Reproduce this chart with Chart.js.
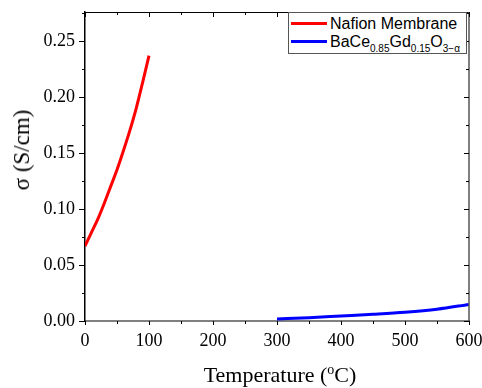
<!DOCTYPE html>
<html>
<head>
<meta charset="utf-8">
<script src="https://cdn.jsdelivr.net/npm/chart.js@4"></script>
<style>
  body { margin: 0; background: #fff; }
  #wrap { position: relative; width: 482px; height: 388px; }
  #legend {
    position: absolute; left: 288px; top: 12px; width: 179px; height: 42px;
    border: 1px solid #555; background: #fff; box-sizing: border-box;
    font-family: "Liberation Sans", Arial, sans-serif; font-size: 16px; color: #000;
  }
  .row { position: absolute; left: 0; height: 19px; line-height: 19px; white-space: nowrap; }
  .swatch { position: absolute; left: 2px; top: 8px; width: 36px; height: 3px; }
  .lbl { position: absolute; left: 41px; top: 0; }
  .lbl sub { font-size: 10px; vertical-align: -5px; line-height: 0; }
  #xtitle {
    position: absolute; left: 85px; width: 390px; top: 362px; text-align: center;
    font-family: "Liberation Serif", "Times New Roman", serif; font-size: 22px; color: #000;
  }
  #xtitle sup { font-size: 14px; vertical-align: 8px; line-height: 0; }
  #ytitle {
    position: absolute; left: 22px; top: 150px; transform: translate(-50%, -50%) rotate(-90deg);
    white-space: nowrap;
    font-family: "Liberation Serif", "Times New Roman", serif; font-size: 23px; color: #000;
  }
</style>
</head>
<body>
<div id="wrap">
  <canvas id="sigmaChart" width="482" height="388"></canvas>
  <div id="legend">
    <div class="row" style="top:1px"><div class="swatch" style="background:#ff0000"></div><span class="lbl">Nafion Membrane</span></div>
    <div class="row" style="top:19px"><div class="swatch" style="background:#0000ff"></div><span class="lbl">BaCe<sub>0.85</sub>Gd<sub>0.15</sub>O<sub>3−α</sub></span></div>
  </div>
  <div id="xtitle">Temperature (<sup>o</sup>C)</div>
  <div id="ytitle">σ (S/cm)</div>
</div>
<script>
// Nafion membrane conductivity
const nafionTemp = [0, 10, 20, 30, 40, 50, 60, 70, 80, 90, 100];
const nafionSigma = [0.067, 0.079, 0.091, 0.105, 0.120, 0.135, 0.152, 0.170, 0.190, 0.213, 0.237];

// BaCe0.85Gd0.15O3-a conductivity
const bcgTemp = [300, 350, 400, 450, 500, 550, 600];
const bcgSigma = [0.0018, 0.0030, 0.0045, 0.0060, 0.0078, 0.0105, 0.0148];

const xTicks = [0, 100, 200, 300, 400, 500, 600];
const yTicks = [0.00, 0.05, 0.10, 0.15, 0.20, 0.25];

const serif = "'Liberation Serif', 'Times New Roman', serif";

// ticks on all four sides, majors and minors
const frameTicks = {
    id: "frameTicks",
    afterDraw(chart) {
        const ctx = chart.ctx;
        const a = chart.chartArea;
        const xs = chart.scales.x, ys = chart.scales.y;
        ctx.save();
        // top frame line
        ctx.strokeStyle = "#000";
        ctx.lineWidth = 1;
        ctx.beginPath();
        ctx.moveTo(a.left, a.top + 0.5);
        ctx.lineTo(a.right, a.top + 0.5);
        ctx.stroke();
        // right frame line
        ctx.strokeStyle = "#555";
        ctx.lineWidth = 1.5;
        ctx.beginPath();
        ctx.moveTo(a.right, a.top);
        ctx.lineTo(a.right, a.bottom);
        ctx.stroke();

        ctx.lineWidth = 1;
        ctx.strokeStyle = "#000";
        const xMinor = [];
        for (let i = 0; i < xTicks.length - 1; i++) xMinor.push((xTicks[i] + xTicks[i + 1]) / 2);
        const yMinor = [];
        for (let i = 0; i < yTicks.length - 1; i++) yMinor.push((yTicks[i] + yTicks[i + 1]) / 2);
        yMinor.push(yTicks[yTicks.length - 1] + 0.025);

        ctx.beginPath();
        xTicks.forEach(v => {
            const px = Math.round(xs.getPixelForValue(v)) + 0.5;
            ctx.moveTo(px, a.bottom); ctx.lineTo(px, a.bottom + 4);
            ctx.moveTo(px, a.top); ctx.lineTo(px, a.top + 5);
        });
        xMinor.forEach(v => {
            const px = Math.round(xs.getPixelForValue(v)) + 0.5;
            ctx.moveTo(px, a.bottom); ctx.lineTo(px, a.bottom + 3);
            ctx.moveTo(px, a.top); ctx.lineTo(px, a.top + 3);
        });
        yTicks.forEach(v => {
            const py = Math.round(ys.getPixelForValue(v)) + 0.5;
            ctx.moveTo(a.left - 6, py); ctx.lineTo(a.left, py);
            ctx.moveTo(a.right, py); ctx.lineTo(a.right - 5, py);
        });
        yMinor.forEach(v => {
            if (v > ys.max) return;
            const py = Math.round(ys.getPixelForValue(v)) + 0.5;
            ctx.moveTo(a.left - 3, py); ctx.lineTo(a.left, py);
            ctx.moveTo(a.right, py); ctx.lineTo(a.right - 3, py);
        });
        ctx.stroke();
        ctx.restore();
    }
};

new Chart(document.getElementById("sigmaChart"), {
    type: "line",
    data: {
        datasets: [
            {
                label: "Nafion Membrane",
                data: nafionTemp.map((t, i) => ({ x: t, y: nafionSigma[i] })),
                borderColor: "#ff0000",
                borderWidth: 3,
                pointRadius: 0,
                cubicInterpolationMode: "monotone",
            },
            {
                label: "BaCe0.85Gd0.15O3-a",
                data: bcgTemp.map((t, i) => ({ x: t, y: bcgSigma[i] })),
                borderColor: "#0000ff",
                borderWidth: 3,
                pointRadius: 0,
                cubicInterpolationMode: "monotone",
            },
        ],
    },
    options: {
        responsive: false,
        animation: false,
        layout: { padding: { top: 12, right: 13, left: 0, bottom: 0 } },
        plugins: { legend: { display: false }, tooltip: { enabled: false } },
        scales: {
            x: {
                type: "linear",
                min: 0,
                max: 600,
                afterBuildTicks: s => { s.ticks = xTicks.map(v => ({ value: v })); },
                afterFit: s => { s.height = 67; s.paddingLeft = 0; s.paddingRight = 0; },
                grid: { display: false, drawTicks: false },
                border: { display: true, color: "#808080", width: 2 },
                ticks: { color: "#000", padding: 9, font: { family: serif, size: 18 }, maxRotation: 0 },
            },
            y: {
                min: 0,
                max: 0.276,
                afterBuildTicks: s => { s.ticks = yTicks.map(v => ({ value: v })); },
                afterFit: s => { s.width = 85; s.paddingTop = 0; s.paddingBottom = 0; },
                grid: { display: false, drawTicks: false },
                border: { display: true, color: "#000", width: 1.5 },
                ticks: {
                    color: "#000",
                    padding: 10,
                    font: { family: serif, size: 18 },
                    callback: v => Number(v).toFixed(2),
                },
            },
        },
    },
    plugins: [frameTicks],
});
</script>
</body>
</html>
